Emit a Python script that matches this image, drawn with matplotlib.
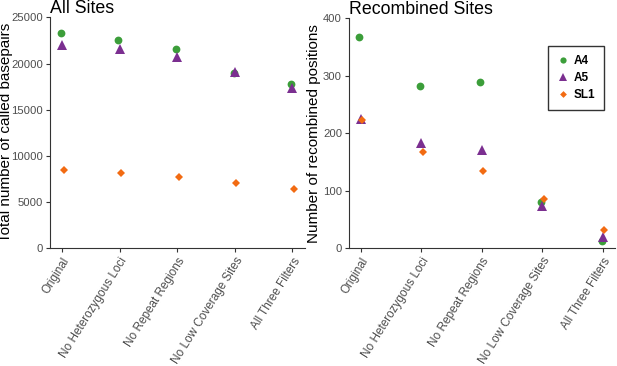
import matplotlib
matplotlib.use("Agg")
import matplotlib.pyplot as plt
import numpy as np

plt.rcParams['font.family'] = ['Liberation Sans', 'DejaVu Sans']

categories = ["Original", "No Heterozygous Loci", "No Repeat Regions",
              "No Low Coverage Sites", "All Three Filters"]
series = ["A4", "A5", "SL1"]

all_sites = {
    "A4": [23270, 22540, 21570, 18940, 17780],
    "A5": [22000, 21540, 20670, 19050, 17380],
    "SL1": [8440, 8120, 7720, 7030, 6450],
}
recombined = {
    "A4": [368, 282, 289, 81, 13],
    "A5": [225, 183, 171, 74, 20],
    "SL1": [223, 167, 134, 86, 31],
}

colors = {"A4": "#3C9E3A", "A5": "#7B2F90", "SL1": "#F26B12"}
markers = {"A4": "o", "A5": "^", "SL1": "D"}
msizes = {"A4": 5.6, "A5": 6.8, "SL1": 4.3}
offsets = {"A4": -0.02, "A5": 0.0, "SL1": 0.025}

fig = plt.figure(figsize=(6.17, 3.66), dpi=100)
ax1 = fig.add_axes([50/617, 1-248.3/366, 255/617, 231/366])
ax2 = fig.add_axes([349/617, 1-248.3/366, 266/617, 230/366])

x = np.arange(len(categories))

def style(ax, title, ylabel, ylim, yticks, label_x):
    for s in ["top", "right"]:
        ax.spines[s].set_visible(False)
    for s in ["left", "bottom"]:
        ax.spines[s].set_color("#333333")
        ax.spines[s].set_linewidth(0.8)
    ax.set_ylim(*ylim)
    ax.set_yticks(yticks)
    ax.set_xticks(x)
    ax.set_xticklabels(categories, rotation=58, ha="right", rotation_mode="anchor",
                       fontsize=8.5, color="#4D4D4D")
    ax.tick_params(axis="both", colors="#333333", length=3, width=0.8,
                   labelsize=8.1, labelcolor="#4D4D4D", pad=2)
    ax.tick_params(axis="x", labelsize=8.5)
    ax.set_ylabel(ylabel, fontsize=11)
    ax.yaxis.set_label_coords(label_x, 0.5)
    ax.set_title(title, fontsize=12.8, loc="left", pad=3, x=0.0)

for s in series:
    ax1.plot(x + offsets[s], all_sites[s], linestyle="none", marker=markers[s],
             color=colors[s], markersize=msizes[s], markeredgewidth=0, label=s)
    ax2.plot(x + offsets[s], recombined[s], linestyle="none", marker=markers[s],
             color=colors[s], markersize=msizes[s], markeredgewidth=0, label=s)

ax1.set_xlim(-0.21, 4.22)
ax2.set_xlim(-0.19, 4.2)
style(ax1, "All Sites", "Total number of called basepairs", (0, 25000),
      [0, 5000, 10000, 15000, 20000, 25000], -0.145)
style(ax2, "Recombined Sites", "Number of recombined positions", (0, 400),
      [0, 100, 200, 300, 400], -0.105)

handles = [plt.Line2D([], [], linestyle="none", marker=markers[s], color=colors[s],
                      markersize=msizes[s] * 0.8, markeredgewidth=0) for s in series]
leg = fig.legend(handles, series, loc="upper left",
                 bbox_to_anchor=(548/617, 1-46/366), frameon=True, fancybox=False,
                 edgecolor="black", prop={"weight": "bold", "size": 8.5},
                 handletextpad=0.3, borderpad=0.75, labelspacing=0.45,
                 handlelength=1.1, borderaxespad=0)
leg.get_frame().set_linewidth(1.0)

fig.savefig("out.png", dpi=100)
